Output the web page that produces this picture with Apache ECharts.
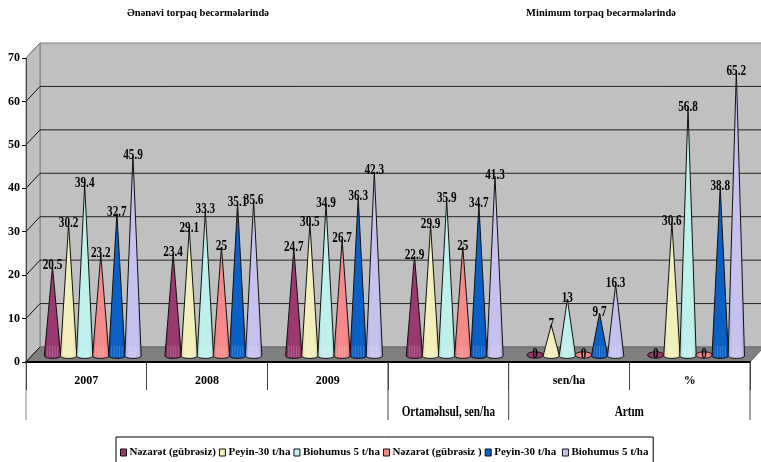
<!DOCTYPE html>
<html>
<head>
<meta charset="utf-8">
<style>html,body{margin:0;padding:0;background:#fff}#center{width:761px;height:462px}</style>
<script src="https://cdn.jsdelivr.net/npm/echarts@6/dist/echarts.min.js"></script>
</head>
<body>
<div id="center"></div>
<script>
var categories = ['2007', '2008', '2009', '', 'sen/ha', '%'];
var yTicks = [10, 20, 30, 40, 50, 60, 70];
var nezaret1 = [20.5, 23.4, 24.7, 22.9, 0, 0];
var peyin1 = [30.2, 29.1, 30.5, 29.9, 7, 30.6];
var biohumus1 = [39.4, 33.3, 34.9, 35.9, 13, 56.8];
var nezaret2 = [23.2, 25, 26.7, 25, 0, 0];
var peyin2 = [32.7, 35.1, 36.3, 34.7, 9.7, 38.8];
var biohumus2 = [45.9, 35.6, 42.3, 41.3, 16.3, 65.2];
var seriesNames = ['Nəzarət (gübrəsiz)', 'Peyin-30 t/ha', 'Biohumus 5 t/ha', 'Nəzarət (gübrəsiz )', 'Peyin-30 t/ha ', 'Biohumus 5 t/ha '];
var seriesValues = [nezaret1, peyin1, biohumus1, nezaret2, peyin2, biohumus2];
var colors = ['#9a3a70', '#f3efbc', '#c0f0ec', '#f48a8a', '#0b60c6', '#c6c2ee'];
var edgeColors = ['#7a2456', '#d6d19c', '#9cd4d0', '#d46666', '#084a9e', '#a29cd4'];
var textFont = '"Liberation Serif", serif';

var depthX = 14;
var depthY = 15;

// squeezed bold label, the original picture has its text narrowed
function label(text, x, y) {
    return {
        type: 'text', z2: 20, x: x, y: y, scaleX: 0.8,
        style: {text: text, x: 0, y: 0, align: 'center', verticalAlign: 'middle', font: 'bold 14px ' + textFont, fill: '#000'}
    };
}

// walls, floor, gridlines and the long separators under the axis
function renderChrome(params, api) {
    var band = api.size([1, 0])[0];
    var o = api.coord([0, 0]);
    var t = api.coord([0, 70]);
    var left = o[0] - band / 2;
    var right = left + band * 6;
    var bottom = o[1];
    var top = t[1];
    var kids = [];
    kids.push({type: 'polygon', shape: {points: [[left + depthX, top - depthY], [right + depthX, top - depthY], [right + depthX, bottom - depthY], [left + depthX, bottom - depthY]]}, style: {fill: '#c0c0c0', stroke: '#808080', lineWidth: 1}});
    kids.push({type: 'polygon', shape: {points: [[left, top], [left + depthX, top - depthY], [left + depthX, bottom - depthY], [left, bottom]]}, style: {fill: '#c0c0c0', stroke: '#808080', lineWidth: 1}});
    kids.push({type: 'polygon', shape: {points: [[left, bottom], [left + depthX, bottom - depthY], [right + depthX, bottom - depthY], [right, bottom]]}, style: {fill: '#808080', stroke: '#666', lineWidth: 1}});
    for (var i = 0; i < yTicks.length - 1; i++) {
        var y = api.coord([0, yTicks[i]])[1];
        kids.push({type: 'line', shape: {x1: left, y1: y, x2: left + depthX, y2: y - depthY}, style: {stroke: '#111', lineWidth: 1}});
        kids.push({type: 'line', shape: {x1: left + depthX, y1: y - depthY, x2: right + depthX, y2: y - depthY}, style: {stroke: '#222', lineWidth: 1}});
    }
    kids.push({type: 'line', shape: {x1: left, y1: bottom, x2: left + depthX, y2: bottom - depthY}, style: {stroke: '#111', lineWidth: 1}});
    kids.push({type: 'line', shape: {x1: left, y1: top, x2: left + depthX, y2: top - depthY}, style: {stroke: '#808080', lineWidth: 1}});
    [0, 3, 4, 6].forEach(function (k) {
        var x = left + band * k;
        kids.push({type: 'line', shape: {x1: x, y1: bottom, x2: x, y2: bottom + 58}, style: {stroke: k === 0 ? '#888' : '#444', lineWidth: 1}});
    });
    kids.push(label('Ortaməhsul, sen/ha', left + band * 3.5, bottom + 50));
    kids.push(label('Artım', left + band * 5, bottom + 50));
    return {type: 'group', children: kids};
}

function renderCone(params, api) {
    var idx = params.seriesIndex - 1;
    var value = api.value(1);
    var base = api.coord([api.value(0), 0]);
    var tip = api.coord([api.value(0), value]);
    var cx = base[0] + 6.4 + (idx - 2.5) * 16.1;
    var by = base[1] - 6;
    var ty = tip[1] - 6.5;
    var rx = 8.2;
    var ry = 2.4;
    var fill = new echarts.graphic.LinearGradient(0, 0, 1, 0, [
        {offset: 0, color: edgeColors[idx]},
        {offset: 0.25, color: colors[idx]},
        {offset: 0.75, color: colors[idx]},
        {offset: 1, color: edgeColors[idx]}
    ]);
    var kids = [];
    if (value === 0) {
        kids.push({type: 'ellipse', shape: {cx: cx, cy: by - 1, rx: rx, ry: 3.2}, style: {fill: fill, stroke: '#111', lineWidth: 1}});
    } else {
        var pts = [[cx, ty]];
        for (var a = 0; a <= 12; a++) {
            var ang = Math.PI - a / 12 * Math.PI;
            pts.push([cx + Math.cos(ang) * rx, by + Math.sin(ang) * ry]);
        }
        kids.push({type: 'polygon', shape: {points: pts}, style: {fill: fill, stroke: '#111', lineWidth: 1}});
        // faint ribs at the foot of the cone
        for (var r = -2; r <= 2; r++) {
            kids.push({type: 'line', shape: {x1: cx + r * 2.6, y1: by - 10, x2: cx + r * 2.6, y2: by + 1}, style: {stroke: 'rgba(255,255,255,0.22)', lineWidth: 1}});
        }
    }
    kids.push(label(String(value), cx, ty - 1));
    return {type: 'group', children: kids};
}

var series = [{
    type: 'custom',
    name: 'chrome',
    z: 1,
    silent: true,
    data: [[0, 0]],
    renderItem: renderChrome
}];
for (var s = 0; s < seriesNames.length; s++) {
    series.push({
        type: 'custom',
        name: seriesNames[s],
        z: 2,
        encode: {x: 0, y: 1},
        itemStyle: {color: colors[s]},
        data: seriesValues[s].map(function (v, i) { return [i, v]; }),
        renderItem: renderCone
    });
}

var myChart = echarts.init(document.getElementById('center'));
myChart.setOption({
    animation: false,
    backgroundColor: '#fff',
    title: [{
        text: 'Ənənəvi torpaq becərmələrində',
        left: 193, top: 3, textAlign: 'center',
        textStyle: {fontFamily: textFont, fontWeight: 'bold', fontSize: 10.5, color: '#000'}
    }, {
        text: 'Minimum torpaq becərmələrində',
        left: 596, top: 3, textAlign: 'center',
        textStyle: {fontFamily: textFont, fontWeight: 'bold', fontSize: 10.5, color: '#000'}
    }],
    legend: {
        left: 116, top: 437,
        data: seriesNames,
        icon: 'rect',
        itemWidth: 6, itemHeight: 7, itemGap: 3,
        padding: [10, 2, 12, 4],
        borderColor: '#000', borderWidth: 1,
        backgroundColor: '#fff',
        selectedMode: false,
        itemStyle: {borderColor: '#111', borderWidth: 1},
        textStyle: {fontFamily: textFont, fontWeight: 'bold', fontSize: 11, color: '#000', padding: [0, 0, 0, -2]}
    },
    grid: {left: 26, right: 11, top: 58, bottom: 100},
    xAxis: {
        type: 'category',
        data: categories,
        z: 3,
        axisLine: {lineStyle: {color: '#000', width: 2}},
        axisTick: {show: true, interval: 0, alignWithLabel: false, length: 28, lineStyle: {color: '#444'}},
        axisLabel: {interval: 0, margin: 13, fontFamily: textFont, fontWeight: 'bold', fontSize: 12, color: '#000'},
        splitLine: {show: false}
    },
    yAxis: {
        type: 'value',
        min: 0, max: 70, interval: 10,
        z: 3,
        axisLine: {show: true, lineStyle: {color: '#444', width: 1}},
        axisTick: {show: true, length: 4, lineStyle: {color: '#111'}},
        axisLabel: {margin: 6, fontFamily: textFont, fontWeight: 'bold', fontSize: 12, color: '#000'},
        splitLine: {show: false}
    },
    series: series
});
</script>
</body>
</html>
